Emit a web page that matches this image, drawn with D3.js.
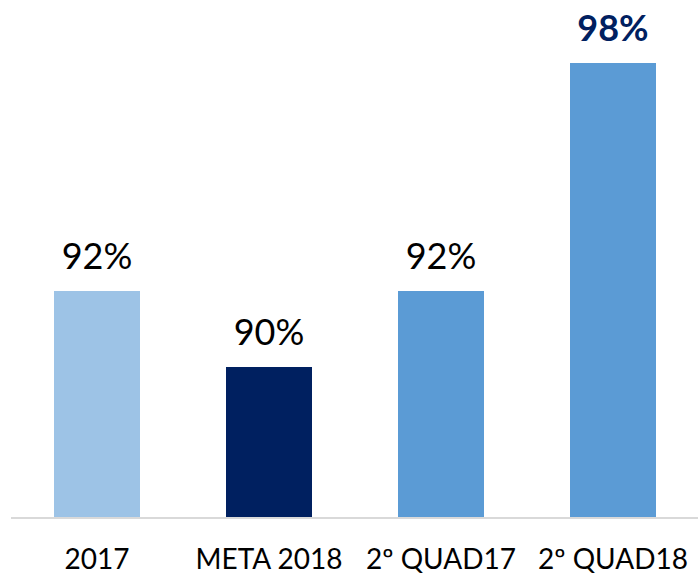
<!DOCTYPE html>
<html>
<head>
<meta charset="utf-8">
<script src="https://cdn.jsdelivr.net/npm/d3@7"></script>
<style>
body { margin: 0; background: #fff; }
</style>
</head>
<body>
<svg id="chart" width="698" height="575"></svg>
<script>
var categories = ["2017", "META 2018", "2º QUAD17", "2º QUAD18"];
var values = [92, 90, 92, 98];
var valueLabels = ["92%", "90%", "92%", "98%"];
var barColors = ["#9dc3e6", "#002060", "#5b9bd5", "#5b9bd5"];

var svg = d3.select("#chart"),
    font = "Lato, 'Open Sans', sans-serif";

var x = d3.scaleBand()
    .domain(categories)
    .range([11, 699])
    .paddingInner(0.5)
    .paddingOuter(0.25);

var y = d3.scaleLinear()
    .domain([86, 98])
    .range([519, 63]);

var data = categories.map(function (c, i) {
    return {cat: c, value: values[i], label: valueLabels[i], color: barColors[i]};
});

svg.append("g")
    .selectAll("rect")
    .data(data)
    .enter().append("rect")
    .attr("x", function (d) { return x(d.cat); })
    .attr("y", function (d) { return y(d.value); })
    .attr("width", x.bandwidth())
    .attr("height", function (d) { return y.range()[0] - y(d.value); })
    .attr("fill", function (d) { return d.color; });

// baseline + category labels
var axis = svg.append("g")
    .attr("transform", "translate(0,518)")
    .call(d3.axisBottom(x).tickSize(0).tickPadding(0));
axis.select(".domain")
    .attr("d", "M11,0H698")
    .attr("stroke", "#d9d9d9")
    .attr("stroke-width", 2);
axis.selectAll("text")
    .attr("y", 51)
    .attr("dy", 0)
    .attr("font-family", font)
    .attr("font-size", 28)
    .attr("fill", "#000");

// value labels
svg.append("g")
    .selectAll("text")
    .data(data)
    .enter().append("text")
    .attr("x", function (d) { return x(d.cat) + x.bandwidth() / 2; })
    .attr("y", function (d) { return y(d.value) - 22; })
    .attr("text-anchor", "middle")
    .attr("font-family", font)
    .attr("font-size", 36)
    .attr("font-weight", function (d, i) { return i === 3 ? "bold" : "normal"; })
    .attr("fill", function (d, i) { return i === 3 ? "#002060" : "#000"; })
    .text(function (d) { return d.label; });
</script>
</body>
</html>
